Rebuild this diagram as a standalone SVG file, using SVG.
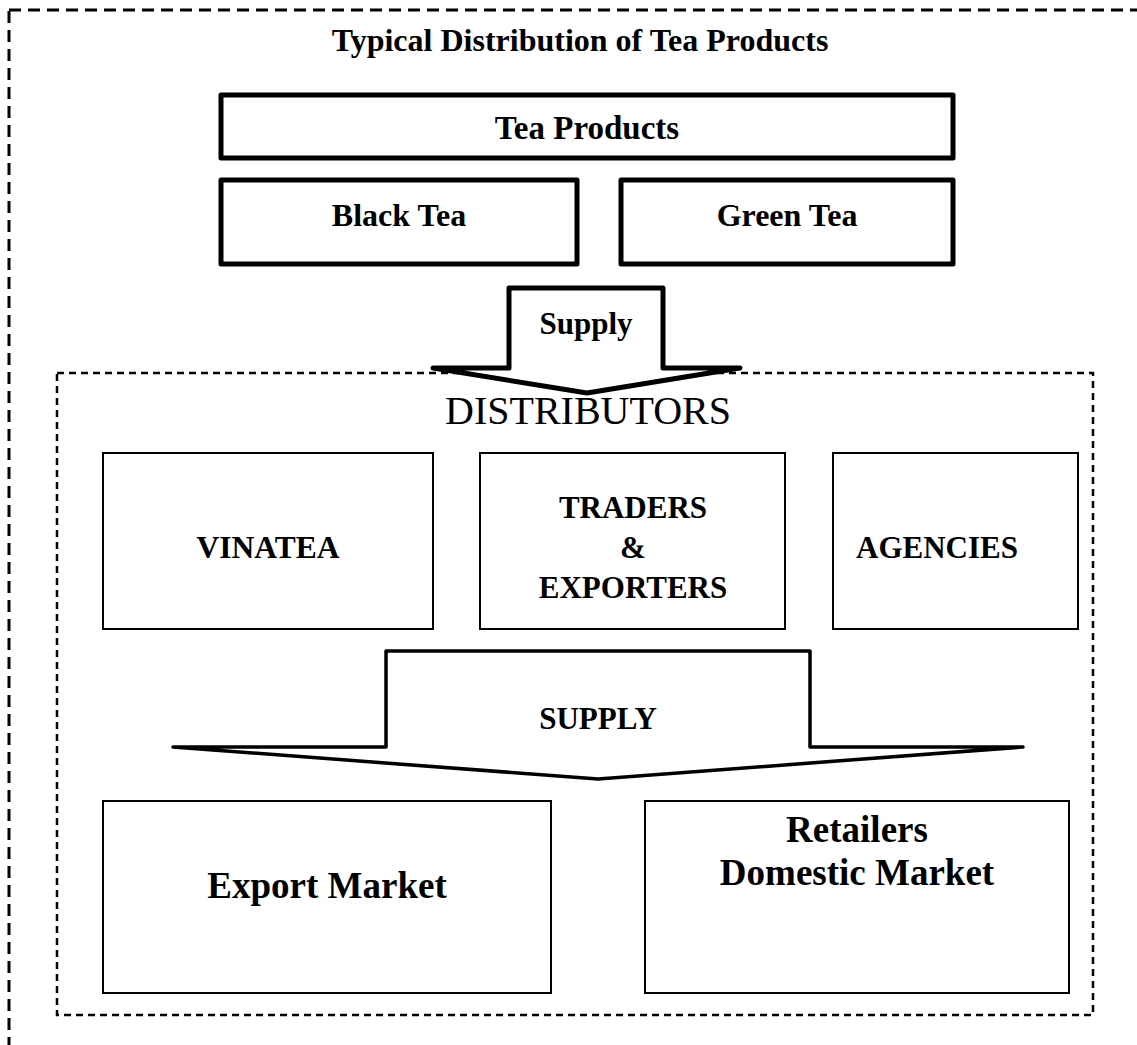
<svg xmlns="http://www.w3.org/2000/svg" width="1137" height="1045" viewBox="0 0 1137 1045">
<style>
text{font-family:"Liberation Serif","Times New Roman",serif;fill:#000;text-anchor:middle}
.b{font-weight:bold}
.thick{fill:#fff;stroke:#000;stroke-width:5;stroke-linejoin:round;stroke-linecap:round}
.thin{fill:#fff;stroke:#000;stroke-width:2}
.dash1{fill:none;stroke:#000;stroke-width:3;stroke-dasharray:12 7}
.dash2{fill:none;stroke:#000;stroke-width:2.5;stroke-dasharray:7 5}
</style>
<rect width="1137" height="1045" fill="#fff"/>
<rect class="dash1" x="9" y="10" width="1160" height="1060"/>
<text class="b" x="580" y="51" font-size="32">Typical Distribution of Tea Products</text>
<g id="tea-products"><rect class="thick" x="221" y="95" width="732" height="63"/><text class="b" x="587" y="139" font-size="33">Tea Products</text></g>
<g id="black-tea"><rect class="thick" x="221" y="180" width="356" height="84"/><text class="b" x="399" y="226" font-size="32">Black Tea</text></g>
<g id="green-tea"><rect class="thick" x="621" y="180" width="332" height="84"/><text class="b" x="787" y="226" font-size="32">Green Tea</text></g>
<g id="distributors"><rect class="dash2" x="57" y="373" width="1036" height="642"/><text x="588" y="424" font-size="40">DISTRIBUTORS</text></g>
<g id="connectors">
<path class="thick" d="M509,288 L663,288 L663,368 L740,368 L587,393 L433,368 L509,368 Z"/>
<text class="b" x="586" y="334" font-size="31">Supply</text>
<path class="thick" style="stroke-width:3.5" d="M386,651 L810,651 L810,747 L1023,747 L598,779 L173,747 L386,747 Z"/>
<text class="b" x="598" y="729" font-size="31">SUPPLY</text>
</g>
<g id="vinatea"><rect class="thin" x="103" y="453" width="330" height="176"/><text class="b" x="268" y="558" font-size="31.5">VINATEA</text></g>
<g id="traders"><rect class="thin" x="480" y="453" width="305" height="176"/><text class="b" x="633" y="518" font-size="31">TRADERS</text><text class="b" x="633" y="558" font-size="31">&amp;</text><text class="b" x="633" y="598" font-size="31">EXPORTERS</text></g>
<g id="agencies"><rect class="thin" x="833" y="453" width="245" height="176"/><text class="b" x="937" y="558" font-size="31">AGENCIES</text></g>
<g id="export"><rect class="thin" x="103" y="801" width="448" height="192"/><text class="b" x="327" y="898" font-size="37">Export Market</text></g>
<g id="retail"><rect class="thin" x="645" y="801" width="424" height="192"/><text class="b" x="857" y="842" font-size="37">Retailers</text><text class="b" x="857" y="885" font-size="37">Domestic Market</text></g>
</svg>
